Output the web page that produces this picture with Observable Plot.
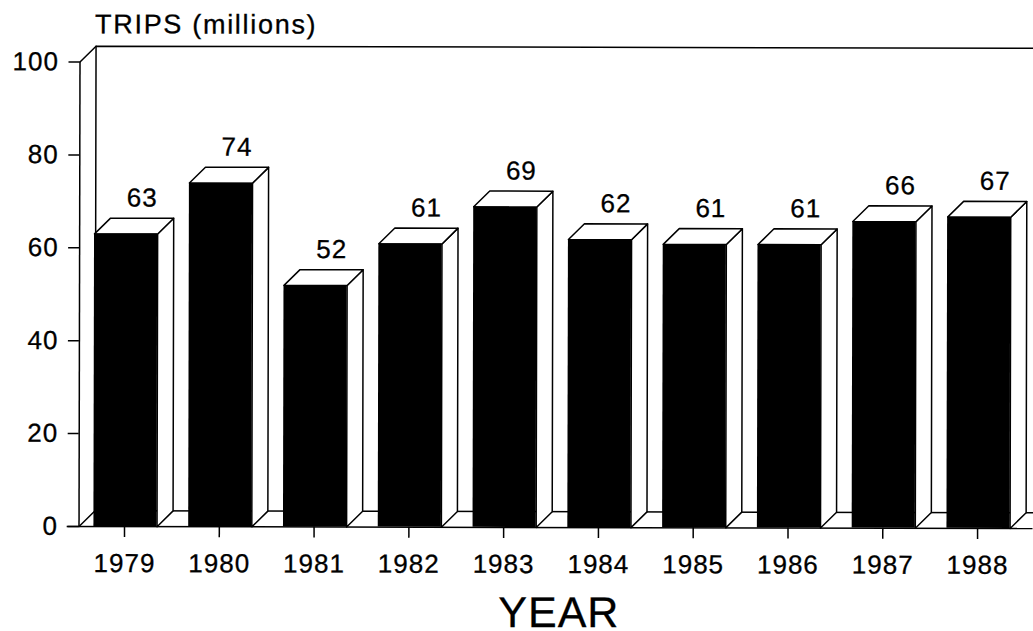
<!DOCTYPE html>
<html>
<head>
<meta charset="utf-8">
<script src="https://cdn.jsdelivr.net/npm/d3@7"></script>
<script src="https://cdn.jsdelivr.net/npm/@observablehq/plot@0.6"></script>
<style>
html,body{margin:0;padding:0;background:#fff;overflow:hidden}
svg{display:block;transform:rotate(0.12deg);transform-origin:80px 300px}
svg text{stroke:#000;stroke-width:.3px}
</style>
</head>
<body>
<div id="chart"></div>
<script>
const years = [1979, 1980, 1981, 1982, 1983, 1984, 1985, 1986, 1987, 1988];
const trips = [63, 74, 52, 61, 69, 62, 61, 61, 66, 67];
const yTicks = [0, 20, 40, 60, 80, 100];
const yTitle = "TRIPS (millions)";
const xTitle = "YEAR";

// 3-D extrusion and bar width, in data units
const depthX = 0.169, depthY = 3.4, halfBar = 0.333, barShift = 0.01;
const xMin = 1978.52, xMax = 1988.585;

const rows = years.map((year, i) => ({
  year, value: trips[i],
  x1: year + barShift - halfBar,
  x2: year + barShift + halfBar
}));
const box = rows.flatMap(d => [
  {id: d.year + "side", x: d.x2, y: 0},
  {id: d.year + "side", x: d.x2 + depthX, y: depthY},
  {id: d.year + "side", x: d.x2 + depthX, y: d.value + depthY},
  {id: d.year + "side", x: d.x2, y: d.value},
  {id: d.year + "top", x: d.x1, y: d.value},
  {id: d.year + "top", x: d.x1 + depthX, y: d.value + depthY},
  {id: d.year + "top", x: d.x2 + depthX, y: d.value + depthY},
  {id: d.year + "top", x: d.x2, y: d.value}
]);
const wall = [
  {x: xMin, y: 100}, {x: xMin + depthX, y: 100 + depthY}, {x: xMax, y: 100 + depthY}
];
const wallLeft = [
  {x: xMin, y: 0}, {x: xMin + depthX, y: depthY}, {x: xMin + depthX, y: 100 + depthY}
];
const floor = [{x: xMin + depthX, y: depthY}, {x: xMax, y: depthY}];

const chart = Plot.plot({
  width: 1033, height: 631,
  marginLeft: 79, marginRight: 0, marginTop: 61.5, marginBottom: 105,
  style: {fontFamily: "'Liberation Sans', Arial, sans-serif", letterSpacing: "1px", color: "#000", background: "#fff", overflow: "visible"},
  x: {domain: [xMin, xMax], label: null},
  y: {domain: [0, 100], label: null},
  marks: [
    Plot.ruleX([xMin], {y1: 0, y2: 100, stroke: "#000", strokeWidth: 1.5}),
    Plot.ruleY([0], {x1: xMin - 0.125, x2: xMax, stroke: "#000", strokeWidth: 1.5}),
    Plot.line(wall, {x: "x", y: "y", stroke: "#000", strokeWidth: 1.5}),
    Plot.line(wallLeft, {x: "x", y: "y", stroke: "#000", strokeWidth: 1.5}),
    Plot.line(floor, {x: "x", y: "y", stroke: "#000", strokeWidth: 1.5}),
    Plot.line(box, {x: "x", y: "y", z: "id", curve: "linear-closed", fill: "#fff", stroke: "#000", strokeWidth: 1.5}),
    Plot.rect(rows, {x1: "x1", x2: "x2", y1: 0, y2: "value", fill: "#000"}),
    Plot.axisY({ticks: yTicks, tickSize: 11, tickPadding: 10, fontSize: 26, label: null, stroke: "#000", strokeWidth: 1.5, fill: "#000"}),
    Plot.axisX({ticks: years, tickFormat: "d", tickSize: 11, tickPadding: 16, fontSize: 26, label: null, stroke: "#000", strokeWidth: 1.5, fill: "#000"}),
    Plot.text(rows, {x: d => d.year + barShift + depthX, y: d => d.value + depthY, text: "value", dy: -20, fontSize: 26, fill: "#000"}),
    Plot.text([yTitle], {frameAnchor: "top-left", dx: 15, dy: -48, fontSize: 27, textAnchor: "start", fill: "#000"}),
    Plot.text([xTitle], {frameAnchor: "bottom", dx: 3, dy: 99.5, fontSize: 43, fill: "#000"})
  ]
});
d3.select(chart).selectAll("text").filter(function () { return this.textContent === yTitle; }).style("letter-spacing", "1.7px");
document.getElementById("chart").appendChild(chart);
</script>
</body>
</html>
